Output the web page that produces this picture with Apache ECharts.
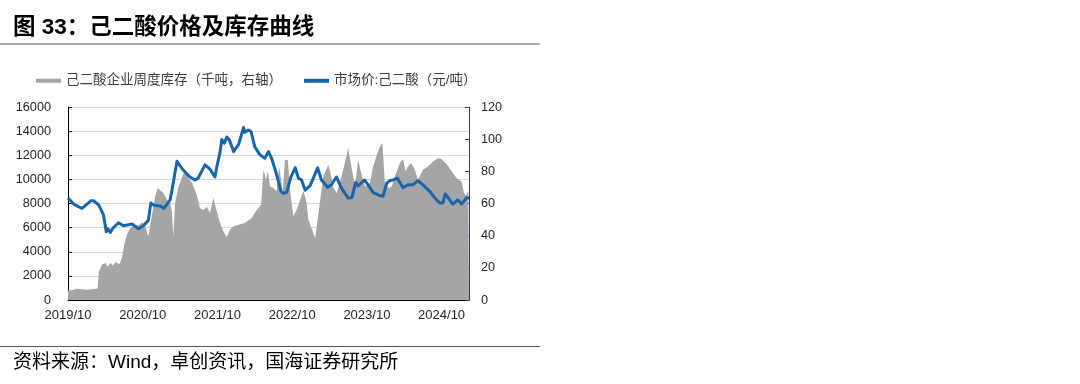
<!DOCTYPE html>
<html>
<head>
<meta charset="utf-8">
<script src="https://cdn.jsdelivr.net/npm/echarts@6/dist/echarts.min.js"></script>
<style>
html,body{margin:0;padding:0;background:#fff;}
#chart{width:1080px;height:384px;}
</style>
</head>
<body>
<div id="chart"></div>
<script>
// x positions: months since 2019/10
var tickLabels = ['2019/10','2020/10','2021/10','2022/10','2023/10','2024/10'];

var priceMonths = [0,0.9,2.25,3.7,4.1,4.9,5.7,6.15,6.4,6.8,7.2,8.1,8.9,10.3,11.3,12.1,12.9,13.3,13.8,14.8,15.4,16.4,16.9,17.5,18.3,19.1,19.6,20.4,20.9,22.0,22.8,23.6,23.9,24.4,24.7,25.1,25.5,25.9,26.6,27.4,28.2,28.4,29.0,29.4,30.0,30.8,31.6,32.2,32.7,33.5,34.2,34.6,35.1,35.8,36.5,37.0,37.5,38.1,38.9,40.1,40.7,41.7,42.3,43.1,43.9,45.0,45.6,46.2,46.6,47.6,48.2,49.0,50.1,50.6,51.2,51.7,52.2,52.9,53.8,54.6,55.4,56.2,57.0,58.1,59.2,59.7,60.2,60.6,61.3,61.8,62.6,63.2,64.0,64.4];
var priceValues = [8450,7950,7600,8230,8230,7900,7050,5650,5900,5600,5950,6400,6150,6300,5900,6150,6600,8050,7850,7800,7600,8300,9700,11500,10900,10450,10200,9950,10100,11200,10850,10200,11050,12200,13300,13000,13500,13300,12300,12900,14300,13900,14100,13950,12700,12050,11750,12300,11750,10400,9000,8850,8900,10200,10950,10100,9950,9100,9500,10950,9950,9350,9550,10200,9300,8450,8500,9750,9450,9950,9550,8900,8650,8600,9700,9900,9950,10100,9300,9550,9550,9900,9550,9000,8300,8050,8050,8800,8300,7950,8300,7950,8450,8450];

var stockMonths = [0,0.7,1.4,3.0,4.4,4.75,4.95,5.45,6.0,6.35,6.8,7.2,7.6,8.3,8.7,9.0,9.5,10.0,10.8,11.3,11.9,12.4,12.9,13.5,14.0,14.4,14.8,15.3,15.9,16.4,16.7,16.9,17.2,17.7,18.3,18.8,19.3,19.9,20.7,21.2,21.75,22.3,22.8,23.35,23.9,24.4,24.95,25.5,26.0,26.6,27.4,28.4,29.5,30.3,31.0,31.4,31.8,32.1,32.45,33.0,33.5,33.9,34.2,34.5,34.85,35.3,35.65,36.2,36.7,37.3,37.8,38.3,38.6,38.9,39.7,40.5,41.0,41.8,42.1,42.6,43.15,43.95,44.5,45.0,45.6,46.1,46.6,47.2,47.7,48.5,49.0,49.6,50.1,50.5,50.9,51.5,52.0,52.5,53.3,53.8,54.2,54.6,55.1,55.7,56.2,57.0,57.8,58.7,59.5,60.0,60.8,61.6,62.4,63.2,63.6,63.9,64.3,64.4];
var stockValues = [5.8,6.2,7.0,6.4,7.0,7.2,17.5,21.9,23.0,20.9,23,21.5,23.4,22.4,27,34,41,44.8,46.8,46.2,48.3,46,39.5,53,64.4,69.6,68.2,66.7,62.4,60,55,39.5,60,70,76,81,76,73,65,57,56,58,54,63.4,55,48,42.7,39,43.7,45.8,46.8,47.9,51,56,59.3,81,74.8,80,70.6,69.6,67.5,83,84,67.5,87.2,87,68.6,52,56,62.4,68,61,50,46.8,38.5,62,76.9,84,80,70,66.5,77,86,94.5,81,70.6,87.2,77,70.6,72.7,83,90.3,95.5,97.6,72,69.6,70.6,76.9,85.2,87.7,80,83,85.2,81,74.8,81,83,86.2,88.3,87.5,84.5,80,75.9,73.7,66.5,65,67.5,67];

var seriesNames = ['己二酸企业周度库存（千吨，右轴）', '市场价:己二酸（元/吨）'];

function zip(a, b) { return a.map(function (v, i) { return [v, b[i]]; }); }

var latin = "'Liberation Sans', Arial, 'Noto Sans CJK SC', sans-serif";
var cjk = "'Liberation Sans', 'Noto Sans CJK SC', sans-serif";

var chart = echarts.init(document.getElementById('chart'), null, {renderer: 'canvas'});
chart.setOption({
  animation: false,
  backgroundColor: '#ffffff',
  grid: {left: 68, right: 611, top: 107, bottom: 84},
  legend: {
    left: 31, top: 69, itemGap: 22, itemWidth: 25, itemHeight: 4,
    textStyle: {fontSize: 13.5, color: '#404040', fontFamily: cjk},
    data: [
      {name: seriesNames[0], icon: 'rect'},
      {name: seriesNames[1], icon: 'rect'}
    ]
  },
  xAxis: {
    type: 'value', min: 0, max: 64.4, interval: 12,
    axisLine: {show: true, lineStyle: {color: '#000', width: 1}},
    axisTick: {show: true, inside: true, length: 4, lineStyle: {color: '#000'}},
    splitLine: {show: false},
    axisLabel: {
      margin: 9, fontSize: 13, color: '#262626', fontFamily: latin,
      showMaxLabel: false,
      formatter: function (v) { var i = Math.round(v / 12); return (Math.abs(v - i * 12) < 1e-6 && tickLabels[i]) ? tickLabels[i] : ''; }
    }
  },
  yAxis: [
    {
      type: 'value', min: 0, max: 16000, interval: 2000, position: 'left',
      axisLine: {show: true, lineStyle: {color: '#000', width: 1}},
      axisTick: {show: true, inside: true, length: 4, lineStyle: {color: '#000'}},
      splitLine: {show: true, lineStyle: {color: '#d9d9d9', width: 1}},
      axisLabel: {margin: 17, fontSize: 12.7, color: '#262626', fontFamily: latin, formatter: function (v) { return String(v); }}
    },
    {
      type: 'value', min: 0, max: 120, interval: 20, position: 'right',
      axisLine: {show: true, lineStyle: {color: '#2e3b8f', width: 1}},
      axisTick: {show: true, inside: true, length: 4, lineStyle: {color: '#2e3b8f'}},
      splitLine: {show: false},
      axisLabel: {margin: 12, fontSize: 12.7, color: '#262626', fontFamily: latin, formatter: function (v) { return String(v); }}
    }
  ],
  series: [
    {
      name: seriesNames[0], type: 'line', yAxisIndex: 1,
      data: zip(stockMonths, stockValues),
      symbol: 'none', smooth: false,
      itemStyle: {color: '#a5a5a5'},
      lineStyle: {width: 0, color: '#a5a5a5'},
      areaStyle: {color: '#a5a5a5', opacity: 1},
      z: 1
    },
    {
      name: seriesNames[1], type: 'line', yAxisIndex: 0,
      data: zip(priceMonths, priceValues),
      symbol: 'none', smooth: false,
      itemStyle: {color: '#1766ab'},
      lineStyle: {width: 3, color: '#1766ab', join: 'round'},
      z: 3
    }
  ],
  graphic: [
    {type: 'text', left: 13, top: 17, style: {text: '图 33：己二酸价格及库存曲线', font: "bold 22.5px 'Liberation Sans', 'Noto Sans CJK SC', sans-serif", fill: '#000'}},
    {type: 'line', shape: {x1: 0, y1: 44, x2: 540, y2: 44}, style: {stroke: '#555', lineWidth: 1}},
    {type: 'line', shape: {x1: 0, y1: 346.5, x2: 540, y2: 346.5}, style: {stroke: '#555', lineWidth: 1}},
    {type: 'text', left: 13, top: 353, style: {text: '资料来源：Wind，卓创资讯，国海证券研究所', font: "19px 'Liberation Sans', 'Noto Sans CJK SC', sans-serif", fill: '#000'}}
  ]
});
</script>
</body>
</html>
